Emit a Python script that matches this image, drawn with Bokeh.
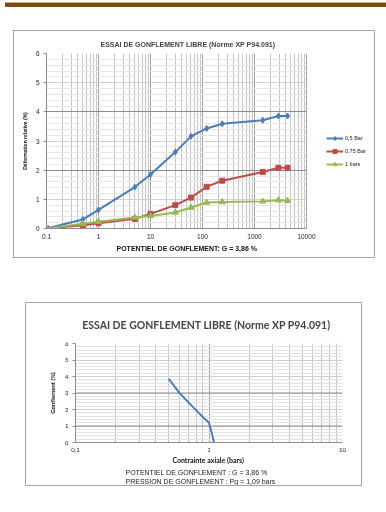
from bokeh.plotting import figure
from bokeh.models import (Legend, LegendItem, Span, Title, FixedTicker, Grid,
                          CustomJSTickFormatter, Div, Spacer)
from bokeh.layouts import column, row
from bokeh.embed import file_html
from bokeh.resources import INLINE

# ---------------- Chart 1 data ----------------
time_min = [0.1, 0.5, 1, 5, 10, 30, 60, 120, 240, 1440, 2880, 4320]
def_05 = [0.0, 0.31, 0.64, 1.42, 1.85, 2.62, 3.16, 3.43, 3.59, 3.71, 3.86, 3.86]
def_075 = [0.0, 0.11, 0.18, 0.33, 0.50, 0.80, 1.06, 1.43, 1.64, 1.94, 2.08, 2.08]
def_1 = [0.0, 0.16, 0.23, 0.38, 0.43, 0.55, 0.72, 0.89, 0.91, 0.93, 0.97, 0.95]
series_labels = ["0,5 Bar", "0,75 Bar", "1 bars"]
y_ticks_1 = [0, 1, 2, 3, 4, 5, 6]
x_ticks_1 = [0.1, 1, 10, 100, 1000, 10000]
dark_lines_1 = [2, 4]

# ---------------- Chart 2 data ----------------
stress = [0.5, 0.6, 0.77, 0.91, 1.0, 1.04, 1.09]
swell = [3.86, 3.01, 2.10, 1.50, 1.20, 0.69, 0.0]
x_ticks_2 = [0.1, 1, 10]
y_ticks_2 = [0, 1, 2, 3, 4, 5, 6]
dark_lines_2 = [1, 3]

FONT = "Liberation Sans"
FONT2 = "Lato"
BLUE, RED, GREEN = "#4a7ebb", "#be4b48", "#98b954"


def minor_log(lo_exp, hi_exp):
    return [m * 10.0 ** e for e in range(lo_exp, hi_exp) for m in range(2, 10)]


def style_axes(p, font, tick_size, label_size):
    for ax in (p.xaxis[0], p.yaxis[0]):
        ax.axis_line_color = "#8c8c8c"
        ax.major_tick_line_color = "#8c8c8c"
        ax.major_tick_in = 0
        ax.minor_tick_in = 0
        ax.minor_tick_out = 0
        ax.major_label_text_font = font
        ax.major_label_text_font_size = tick_size
        ax.major_label_text_color = "#222222"
        ax.axis_label_text_font = font
        ax.axis_label_text_font_size = label_size
        ax.axis_label_text_font_style = "bold"
        ax.axis_label_text_color = "#111111"


# ================= Chart 1 =================
# the frame also holds the legend area to the right of the 10000 decade
x1_lo, x1_hi = x_ticks_1[0], x_ticks_1[-1]
x1_end = 10 ** (4 + 70 / 52)
p1 = figure(width=362, height=228, x_axis_type="log", x_range=(x1_lo, x1_end),
            y_range=(0, 6), output_backend="svg", toolbar_location=None,
            min_border_left=32, min_border_right=0, min_border_top=22,
            min_border_bottom=31, background_fill_color="white",
            border_fill_color="white")
p1.styles = {"border": "1px solid #a6a6a6"}
p1.outline_line_color = None
p1.title.text = "ESSAI DE  GONFLEMENT  LIBRE (Norme XP P94.091)"
p1.title.text_font = FONT
p1.title.text_font_size = "7px"
p1.title.text_font_style = "bold"
p1.title.align = "left"
p1.title.offset = 54
p1.title.standoff = 11

p1.xaxis.ticker = FixedTicker(ticks=x_ticks_1, minor_ticks=minor_log(-1, 4))
p1.yaxis.ticker = FixedTicker(ticks=y_ticks_1,
                              minor_ticks=[i * 0.2 for i in range(31)])
p1.xaxis.formatter = CustomJSTickFormatter(
    code="return tick < 1 ? tick.toFixed(1) : tick.toFixed(0);")
p1.xaxis.bounds = (x1_lo, x1_hi)
style_axes(p1, FONT, "6.5px", "7px")
p1.xaxis.major_tick_out = 0
p1.yaxis.major_tick_out = 3
p1.xaxis.major_label_standoff = 5
p1.yaxis.major_label_standoff = 4
p1.yaxis.axis_label = "Déformation relative (%)"
p1.yaxis.axis_label_text_font_size = "5px"
p1.yaxis.axis_label_standoff = 5
p1.add_layout(Title(text="POTENTIEL  DE  GONFLEMENT:  G = 3,86 %",
                    align="left", offset=70, standoff=3,
                    text_font=FONT, text_font_size="7px",
                    text_font_style="bold", text_color="#111111"), "below")

p1.xgrid.grid_line_color = "#a0a0a0"
p1.xgrid.minor_grid_line_color = "#c4c4c4"
p1.ygrid.grid_line_color = "#d0d0d0"
p1.ygrid.minor_grid_line_color = "#e6e6e6"
has_cross = "cross_bounds" in p1.ygrid[0].properties()
if has_cross:
    p1.ygrid[0].cross_bounds = (x1_lo, x1_hi)
    p1.xgrid[0].cross_bounds = (0, 6)
    dg = Grid(dimension=1, ticker=FixedTicker(ticks=dark_lines_1),
              grid_line_color="#8c8c8c", cross_bounds=(x1_lo, x1_hi))
    p1.add_layout(dg, "center")
else:
    p1.segment(x0=[x1_lo] * len(dark_lines_1), x1=[x1_hi] * len(dark_lines_1),
               y0=dark_lines_1, y1=dark_lines_1, line_color="#8c8c8c",
               level="underlay")

r_l1 = p1.line(time_min, def_05, line_color=BLUE, line_width=2)
r_m1 = p1.scatter(time_min, def_05, marker="diamond", size=6, color=BLUE)
r_l2 = p1.line(time_min, def_075, line_color=RED, line_width=2)
r_m2 = p1.scatter(time_min, def_075, marker="square", size=5, color=RED)
r_l3 = p1.line(time_min, def_1, line_color=GREEN, line_width=2)
r_m3 = p1.scatter(time_min, def_1, marker="triangle", size=6, color=GREEN)

legend = Legend(items=[
    LegendItem(label=series_labels[0], renderers=[r_l1, r_m1]),
    LegendItem(label=series_labels[1], renderers=[r_l2, r_m2]),
    LegendItem(label=series_labels[2], renderers=[r_l3, r_m3]),
], location=(280, 59))
legend.glyph_width = 17
legend.glyph_height = 10
legend.label_height = 10
legend.spacing = 3
legend.padding = 2
legend.margin = 0
legend.label_standoff = 2
legend.label_text_font = FONT
legend.label_text_font_size = "5.5px"
legend.label_text_color = "#222222"
legend.border_line_color = None
legend.background_fill_alpha = 0
p1.add_layout(legend, "center")

# ================= Chart 2 =================
p2 = figure(width=337, height=184, x_axis_type="log", x_range=(0.1, 10),
            y_range=(0, 6), output_backend="svg", toolbar_location=None,
            min_border_left=49, min_border_right=21, min_border_top=40,
            min_border_bottom=45, background_fill_color="white",
            border_fill_color="white")
p2.styles = {"border": "1px solid #a6a6a6"}
p2.outline_line_color = None
p2.title.text = "ESSAI DE  GONFLEMENT  LIBRE (Norme XP P94.091)"
p2.title.text_font = FONT2
p2.title.text_font_size = "10.5px"
p2.title.text_font_style = "bold"
p2.title.align = "center"
p2.title.standoff = 26

p2.xaxis.ticker = FixedTicker(ticks=x_ticks_2, minor_ticks=minor_log(-1, 1))
p2.yaxis.ticker = FixedTicker(ticks=y_ticks_2,
                              minor_ticks=[i * 0.2 for i in range(31)])
p2.xaxis.formatter = CustomJSTickFormatter(
    code="return tick < 1 ? tick.toFixed(1).replace('.', ',') : tick.toFixed(0);")
style_axes(p2, FONT2, "6px", "7px")
p2.xaxis.major_tick_out = 0
p2.yaxis.major_tick_out = 3
p2.xaxis.major_label_standoff = 5
p2.yaxis.major_label_standoff = 4
p2.xaxis.axis_label = "Contrainte axiale  (bars)"
p2.xaxis.axis_label_standoff = 1
p2.yaxis.axis_label = "Gonflement (%)"
p2.yaxis.axis_label_text_font_size = "6px"
p2.yaxis.axis_label_standoff = 6

p2.xgrid.grid_line_color = "#a0a0a0"
p2.xgrid.minor_grid_line_color = "#c4c4c4"
p2.ygrid.grid_line_color = "#d0d0d0"
p2.ygrid.minor_grid_line_color = "#e3e3e3"
for v in dark_lines_2:
    p2.add_layout(Span(location=v, dimension="width", line_color="#8c8c8c",
                       line_width=1, level="underlay"))

p2.line(stress, swell, line_color=BLUE, line_width=2)

for txt in ["POTENTIEL  DE  GONFLEMENT  :  G = 3,86 %",
            "PRESSION  DE  GONFLEMENT   :  Pg = 1,09 bars"]:
    t = Title(text=txt, align="left", offset=50, standoff=0,
              text_font=FONT, text_font_size="7px",
              text_font_style="normal", text_color="#222222")
    p2.add_layout(t, "below")

# ================= Page =================
bar = Div(text="", width=386, height=6,
          styles={"position": "fixed", "top": "-4px", "left": "0px",
                  "width": "386px", "height": "6px",
                  "background": "linear-gradient(#ffffff 0%, #ffffff 12%, #d4a86f 12%, #d4a86f 30%, #7b4a1d 30%, #7b4a1d 100%)"})

page = column(bar,
              Spacer(height=30),
              row(Spacer(width=13), p1),
              Spacer(height=44),
              row(Spacer(width=25), p2),
              spacing=0)

open("out.html", "w").write(file_html(page, INLINE))
